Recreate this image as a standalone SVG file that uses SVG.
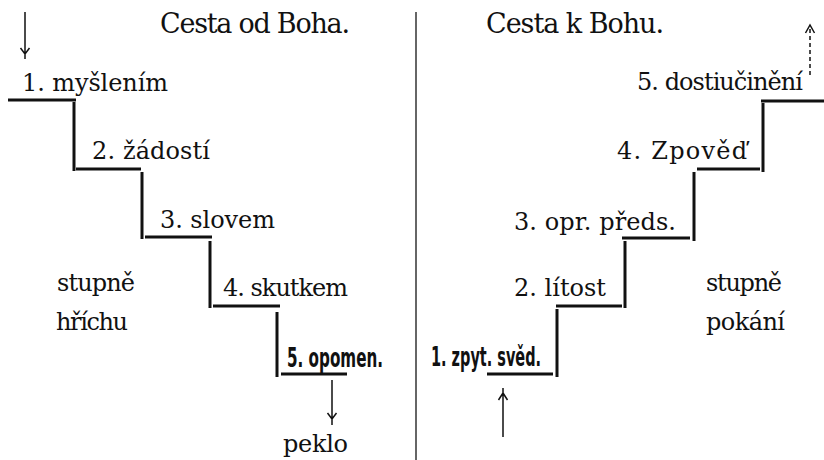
<svg xmlns="http://www.w3.org/2000/svg" width="824" height="460" viewBox="0 0 824 460">
<style>
text{font-family:"DejaVu Serif","Liberation Serif",serif;font-size:24px;fill:#111}
.t{font-size:27px}
.b{font-family:"Liberation Sans Narrow","DejaVu Sans Condensed","Liberation Sans",sans-serif;font-weight:bold;font-size:27px}
.step{stroke:#111;stroke-width:3;fill:none;stroke-linecap:butt}
.arr{stroke:#111;stroke-width:1.5;fill:none}
.dash{stroke-dasharray:4 3}
.div{stroke:#333;stroke-width:1.5}
</style>
<rect width="824" height="460" fill="#fff"/>
<line class="div" x1="416" y1="12" x2="416" y2="460"/>
<g id="title-left"><text class="t" x="160" y="33" textLength="190" lengthAdjust="spacing">Cesta od Boha.</text></g>
<g id="title-right"><text class="t" x="486" y="33" textLength="178" lengthAdjust="spacing">Cesta k Bohu.</text></g>
<g id="l1"><text x="22" y="91" textLength="146" lengthAdjust="spacing">1. myšlením</text><line class="step" x1="8" y1="100" x2="76" y2="100"/></g>
<g id="l2"><text x="92" y="159" textLength="118" lengthAdjust="spacing">2. žádostí</text><line class="step" x1="76" y1="169" x2="141" y2="169"/></g>
<g id="l3"><text x="160" y="228" textLength="115" lengthAdjust="spacing">3. slovem</text><line class="step" x1="145" y1="237" x2="212" y2="237"/></g>
<g id="l4"><text x="223" y="296" textLength="125" lengthAdjust="spacing">4. skutkem</text><line class="step" x1="213" y1="306" x2="280" y2="306"/></g>
<g id="l5"><text class="b" x="287" y="367" textLength="96" lengthAdjust="spacingAndGlyphs">5. opomen.</text><line class="step" x1="281" y1="374" x2="347" y2="374"/></g>
<g id="peklo"><text x="283" y="452" textLength="65" lengthAdjust="spacing">peklo</text></g>
<g id="stupne-hrichu"><text x="57" y="291" textLength="78" lengthAdjust="spacing">stupně</text><text x="56" y="330" textLength="72" lengthAdjust="spacing">hříchu</text></g>
<g id="r5"><text x="637" y="90" textLength="166" lengthAdjust="spacing">5. dostiučinění</text><line class="step" x1="761" y1="101" x2="824" y2="101"/></g>
<g id="r4"><text x="617" y="159" textLength="130" lengthAdjust="spacing">4. Zpověď</text><line class="step" x1="697" y1="169" x2="760" y2="169"/></g>
<g id="r3"><text x="514" y="230" textLength="162" lengthAdjust="spacing">3. opr. předs.</text><line class="step" x1="622" y1="238" x2="690" y2="238"/></g>
<g id="r2"><text x="514" y="296" textLength="92" lengthAdjust="spacing">2. lítost</text><line class="step" x1="556" y1="306" x2="622" y2="306"/></g>
<g id="r1"><text class="b" x="431" y="366" textLength="110" lengthAdjust="spacingAndGlyphs">1. zpyt. svěd.</text><line class="step" x1="487" y1="374" x2="553" y2="374"/></g>
<g id="stupne-pokani"><text x="706" y="291" textLength="76" lengthAdjust="spacing">stupně</text><text x="706" y="330" textLength="79" lengthAdjust="spacing">pokání</text></g>
<g id="connectors">
<line class="step" x1="74" y1="102" x2="74" y2="171"/>
<line class="step" x1="142" y1="172" x2="142" y2="239"/>
<line class="step" x1="210" y1="241" x2="210" y2="308"/>
<line class="step" x1="277" y1="312" x2="277" y2="377"/>
<line class="step" x1="763" y1="103" x2="763" y2="172"/>
<line class="step" x1="694" y1="172" x2="694" y2="241"/>
<line class="step" x1="625" y1="241" x2="625" y2="308"/>
<line class="step" x1="557" y1="309" x2="557" y2="377"/>
<path class="arr" d="M25 12V59M20.5 48L25 54L29.5 48"/>
<path class="arr" d="M332 380V425M327.5 413L332 419L336.5 413"/>
<path class="arr" d="M503 437V388M498.5 400L503 393L507.5 400"/>
<path class="arr dash" d="M810 75V28"/>
<path class="arr" d="M805.5 33L810 25L814.5 33"/>
</g>
</svg>
